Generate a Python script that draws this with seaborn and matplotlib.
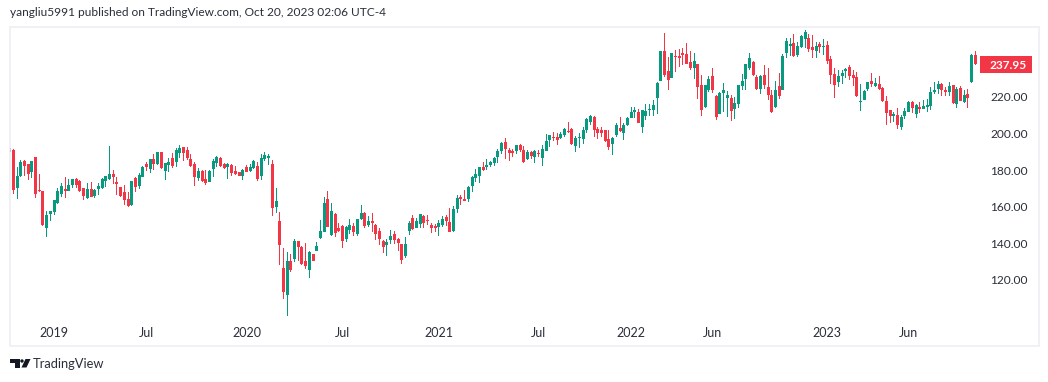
import numpy as np
import pandas as pd
import matplotlib.pyplot as plt
import seaborn as sb
from matplotlib.patches import Polygon, Circle, Rectangle
from matplotlib.transforms import Affine2D

# weekly candles
opens = [191.1,170.5,176.9,185,183.4,179.2,187,169.2,168.7,148.6,
         156.3,157.2,162.1,167.2,169.6,168.7,172,175.2,174.1,170.3,
         164.8,169.8,165.9,169.8,170.3,174.3,175.2,178,173.6,170.9,
         168.1,164.3,161,175.8,171.4,176.3,183.4,180.7,186.2,183.4,
         190,179.6,182.9,186.7,184.5,189.4,192.7,191.1,186.2,183.4,
         175.8,179.6,175.2,173.6,180.7,184,186.7,183.4,181.8,182.9,
         179.6,179,176.9,181.8,179.6,181.2,182.3,176.9,186.2,186.7,
         183.4,159.9,152.3,126.6,111.8,130.4,131.5,141.3,138.1,130.4,
         125.5,134.2,135.9,143,146.3,164.3,144.6,156.1,148.4,149.5,
         142.4,147.3,149.5,145.1,153.3,156.6,150,152.2,150,146.7,
         141.3,139.1,141.8,145.1,142.4,139.6,133.1,146.7,153.8,148.4,
         150.6,154.9,152.8,150,149.5,148.9,150,154.4,151.7,146.7,
         158.8,165.3,164.2,164.2,171.3,175.7,176.8,181.7,181.8,182.9,
         184,187.2,190.5,195.4,191,190.5,190.5,193.8,191,186.1,
         190,187.2,189.4,186.7,190.5,196.5,198.2,198.2,197.6,199.2,
         201.4,202.5,193.2,197.6,197,202,206.3,209.1,202.5,202,
         202,197,194.3,199.2,203.1,200.3,204.7,208.5,211.8,211.8,
         203.6,209.6,212.9,212.9,219.5,228.8,245.2,234.2,230.4,242.4,
         242.4,244,243.5,239.1,235.9,238,226.6,214.6,223.8,231.5,
         220.6,210.7,222.2,219.5,219.5,213.5,216.2,226,229.9,235.9,
         239.1,230.9,224.4,232,225.5,221.1,214.6,226,223.8,244,
         247.9,249.5,243,247.3,251.7,252.3,247.3,245.2,249,247.3,
         248.4,240.8,232.6,228.2,231.5,234.2,236.4,232,230.9,217.3,
         218.4,224.4,228.8,226,227.1,224.9,217.8,212.9,209.6,210.2,
         203.6,209.6,211.8,217.3,210.7,214.6,213.5,214.6,215.1,222.8,
         224.4,227.1,223.8,222.8,226.6,216.2,224.9,217.3,221.7,228.2,243]
closes = [169.2,176.9,184.5,182.5,178.1,184.9,167.2,168.5,150.1,155.6,
          157.7,163.7,168.7,171.6,168.7,172,175.2,172,168.7,165.9,
          169.8,165.4,169.2,171.4,175.2,176.9,178,176.3,172.5,165.9,
          163.7,160.5,174.1,170.9,177.4,181.8,181.8,186.2,183.4,190,
          181.2,184,184.5,182.3,191.1,192.2,189.4,186.7,182.3,176.3,
          179.6,174.1,173,179.6,185,187.2,182.3,181.2,183.4,178.5,
          178,176.9,180.1,179,181.8,185,175.2,186.7,188.3,187.8,
          159.4,163.2,139.2,113.5,130.4,125.5,141.3,138.1,128.8,127.7,
          135.3,130.4,138.6,146.8,162.1,149,157.7,145.7,146.8,141.3,
          148.9,150,146.2,153.3,156.6,149.5,152.2,151.1,145.1,142.4,
          138,140.7,144,141.8,140.2,130.9,139.6,151.1,147.8,152.2,
          156,151.1,152.2,148.4,148.4,151.1,153.3,152.2,146.2,158.8,
          164.8,164.2,163.1,170.8,176.3,177.9,181.7,180.1,182.9,184.5,
          186.7,190.5,194.9,191.6,189.4,189.4,193.8,191,184.5,190,
          187.8,190.5,188.9,191.6,196,199.2,197.6,196.5,199.8,202.5,
          200.9,194.3,197.6,198.2,202,208,209.6,202,200.3,200.3,
          196,192.7,197.6,204.7,201.4,204.7,208.5,211.8,212.9,205.8,
          212.9,212.4,213.5,215.6,227.7,245.2,232,229.3,244,241.9,
          241.3,243,238,235.9,239.7,225.5,212.9,226.6,229.9,223.8,
          209.1,222.2,223.8,221.1,212.4,216.7,226.6,228.8,238,241.3,
          232,224.4,231.5,226.6,221.1,211.8,223.8,220.6,242.4,250.6,
          249,242.4,247.9,253.4,255.5,246.3,245.7,247.9,247.3,247.9,
          239.7,232,226.6,231.5,233.1,235.3,231.5,230.4,220.6,217.8,
          223.3,228.2,227.1,227.7,224.4,217.8,211.3,209.6,210.7,204.7,
          209.1,212.4,217.3,214,215.6,213.5,215.1,215.6,222.8,223.8,
          227.1,223.8,222.8,226,216.7,224.4,217.8,221.1,219.5,243,237.95]
highs = [191.4,182,185.6,185.6,183.4,184.9,187,178,168.7,157.7,
         157.7,163.7,170.3,173.2,176.3,175.2,175.2,175.8,174.7,170.3,
         173.2,173.6,169.8,173,175.8,176.9,193.3,180.1,176.3,170.9,
         171.9,168.1,174.1,176.3,178.5,182.3,184.5,186.2,188.9,190,
         190,184,186.7,189.4,192.2,193.8,192.7,192.7,188.9,184.5,
         181.2,180.1,180.1,180.1,186.2,187.8,187.2,184,184,183.4,
         182.3,179,180.7,182.9,183.4,185.6,184.5,188.9,190,188.9,
         185.6,170.3,157.2,137.5,135.3,134.2,142.4,141.3,138.6,140.3,
         135.9,137,140.8,152.8,165.4,168.7,162.1,156.6,151.2,150,
         149.5,153.3,151.1,153.3,161,157.1,154.9,156.6,150.6,148.4,
         141.8,142.4,147.3,146.7,142.9,139.6,143.5,152.2,155.5,153.8,
         156,155.5,155.5,151.1,150.6,152.8,154.9,155.5,159.3,160.4,
         166.4,166.4,169.1,171.3,176.8,180.6,181.7,184.5,186.1,185,
         187.2,191.6,195.4,197.6,192.1,191.6,193.8,194.3,193.2,191,
         190.5,191,191,193.8,199.8,199.2,200.9,200.3,200.9,203.1,
         206.3,203.1,198.7,200.3,203.6,208.5,210.2,209.6,203.6,203.6,
         202,202,198.2,205.8,209.1,205.8,209.1,214.5,214.5,213.5,
         212.9,216.2,216.2,218.4,228.2,245.2,255,242,244,245.7,
         246.3,246.8,249.5,245.2,244,238,232,226.6,231.5,235.9,
         221.1,222.8,227.7,223.3,221.1,220,226.6,232.6,238,244,
         239.7,232,232,237.5,235.9,223.8,228.8,233.1,243.5,252.3,
         252.3,254.4,250,253.9,256.6,254.4,253.9,250,250,251.7,
         250.6,242.4,235.9,234.8,234.8,235.9,237.5,234.8,233.7,227.1,
         223.8,228.2,233.1,230.4,231.5,225.5,220.6,212.9,211.8,214,
         210.2,214,217.8,217.8,216.2,217.3,218.4,218.9,225.5,228.2,
         228.8,227.7,225.5,228.2,226.6,225.5,226,223.8,224.4,243.5,245.2]
lows = [167,164.3,176.3,176.9,174.7,175.6,164.8,168.1,149.5,143.7,
        152.5,155.7,161.7,165.4,164.8,168.7,170.3,170.3,168.1,163.7,
        164.3,165.4,164.8,166.5,169.8,170.9,174.7,172.5,166.5,165.4,
        161,159.9,160.5,168.1,169.8,176.3,179.6,178.5,180.1,182.9,
        180.7,174.7,179,181.2,181.8,186.7,185,185.6,181.8,171.4,
        174.1,173.6,171.9,173.6,176.3,181.8,181.8,180.7,175.2,176.9,
        177.4,176.9,174.7,179,179,180.7,174.1,174.7,185,182.9,
        155,156.6,128.2,109.6,100.4,124.4,129.9,130.4,128.2,126,
        121.1,128.8,135.9,142.4,146.3,149,144,143.5,146.3,137.5,
        140.7,145.1,144,144,152.8,148.4,148.9,146.2,141.8,139.1,
        134.7,133.1,139.6,139.6,135.8,128.7,132,144.6,147.3,148.4,
        148.4,148.4,150,145.7,146.2,144,148.9,149.5,146.2,146.2,
        156.6,160.9,163.1,162.6,168,173.5,173,179.5,180.1,181.8,
        182.3,183.9,188.9,186.1,185,187.2,188.9,190,183.9,185.6,
        186.1,184,187.2,182.3,190.5,192.7,196,193.8,197,198.2,
        200.3,193.8,190,192.1,194.3,200.3,204.7,198.2,197,198.2,
        195.4,191,188.3,198.2,200.9,196.5,204.2,208.5,208.5,205.8,
        200.3,207.4,209.6,209.6,210.7,228.8,231,223.8,230.4,233.7,
        236.4,237.5,238,234.8,229.9,218.9,209.6,214,222.8,222.2,
        207.5,210.7,211.8,209.1,206.9,208,214,223.8,223.8,234.8,
        231.5,223.8,221.7,224.4,218.4,211.3,214,218.9,223.8,241.3,
        242.4,241.9,241.9,246.8,246.8,244.6,241.3,241.3,244,243,
        238,227.1,219.5,225.5,227.1,230.4,229.3,226,220,212.4,
        218.4,223.3,225.5,225.5,223.8,217.3,204.7,205.8,206.4,202.5,
        202,208,211.8,211.3,208.5,211.3,213.5,211.8,212.9,221.7,
        221.7,220.6,220.6,220.6,216.2,214,217.8,216.7,214,227.7,237.5]

price_ticks = [120, 140, 160, 180, 200, 220]
date_ticks = [11, 36, 63, 89, 115, 142, 167, 189, 220, 242]
date_labels = ["2019", "Jul", "2020", "Jul", "2021", "Jul", "2022", "Jun", "2023", "Jun"]
last_price = 237.95

GREEN = "#089981"
RED = "#F23645"
BORDER = "#F0F0F5"
INK = "#2A2E39"

sb.set_theme(style="white")
plt.rcParams["font.family"] = ["Lato", "DejaVu Sans"]

df = pd.DataFrame({"open": opens, "high": highs, "low": lows, "close": closes})
df["week"] = df.index
df["body_low"] = df[["open", "close"]].min(axis=1)
df["body"] = (df["open"] - df["close"]).abs()
df["wick"] = df["high"] - df["low"]
df_up = df[df["close"] >= df["open"]]
df_down = df[df["close"] < df["open"]]

fig = plt.figure(figsize=(10.48, 3.82), dpi=100, facecolor="white")
ax = fig.add_axes([10 / 1048, 1 - 346 / 382, 1028.5 / 1048, 319 / 382])

for part, colour in [(df_up, GREEN), (df_down, RED)]:
    sb.barplot(x=part["week"].values, y=part["wick"].values, bottom=part["low"].values,
               native_scale=True, width=0.27, color=colour, saturation=1, linewidth=0,
               errorbar=None, ax=ax)
    sb.barplot(x=part["week"].values, y=part["body"].values, bottom=part["body_low"].values,
               native_scale=True, width=0.811, color=colour, saturation=1, linewidth=0,
               errorbar=None, ax=ax)

ax.set_xlim(-0.9, 277.1)
ax.set_ylim(83.93, 258.25)
ax.set_xlabel("")
ax.set_ylabel("")

ax.yaxis.tick_right()
ax.set_yticks(price_ticks)
ax.set_yticklabels(["%.2f" % p for p in price_ticks])
ax.tick_params(axis="y", length=0, pad=-34.6, labelsize=8.6, labelcolor=INK)
ax.set_xticks(date_ticks)
ax.set_xticklabels(date_labels)
ax.tick_params(axis="x", length=0, pad=-14, labelsize=9, labelcolor=INK)

for s in ax.spines.values():
    s.set_color(BORDER)
    s.set_linewidth(1.44)

# last price tag
ax.add_patch(Rectangle((0.9431, last_price - 4.65), 0.0506, 9.3, transform=ax.get_yaxis_transform(),
                       fc=RED, ec="none", zorder=4))
ax.text(0.9527, last_price, "%.2f" % last_price, transform=ax.get_yaxis_transform(),
        color="white", fontsize=8.6, fontweight="bold", va="center_baseline", ha="left", zorder=5)

fig.text(10 / 1048, 1 - 13 / 382, "yangliu5991 published on TradingView.com, Oct 20, 2023 02:06 UTC-4",
         fontsize=8.6, color=INK, va="center", ha="left")
fig.text(33 / 1048, 1 - 364.5 / 382, "TradingView", fontsize=9.3, color=INK, va="center", ha="left")

# logo and the small handle on the left border, in pixels from the top left
px = Affine2D().scale(1 / 1048, -1 / 382).translate(0, 1) + fig.transFigure
LOGO = "#131722"
fig.add_artist(Polygon([(10, 359), (19.5, 359), (19.5, 367.5), (15, 367.5), (15, 362.5), (10, 362.5)],
                       closed=True, fc=LOGO, ec="none", transform=px))
fig.add_artist(Circle((22, 361), 1.7, fc=LOGO, ec="none", transform=px))
fig.add_artist(Polygon([(25.5, 359), (30.5, 359), (26.5, 367.5), (21.5, 367.5)],
                       closed=True, fc=LOGO, ec="none", transform=px))
fig.add_artist(Rectangle((9.5, 148), 1.5, 4, fc="#C8C8CE", ec="none", transform=px))

fig.savefig("out.png", dpi=100)
